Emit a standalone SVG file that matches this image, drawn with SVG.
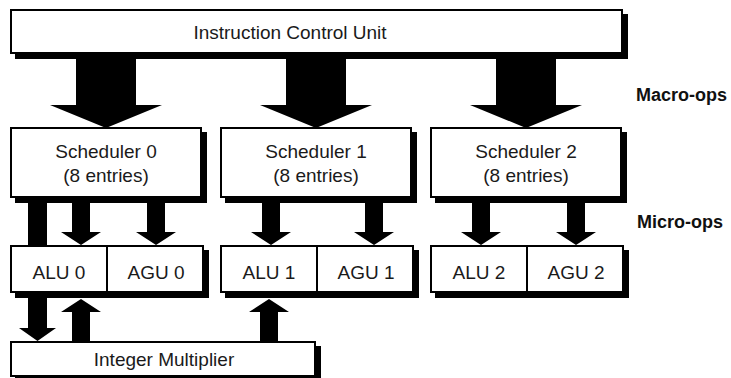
<svg xmlns="http://www.w3.org/2000/svg" width="731" height="378" viewBox="0 0 731 378">
<style>
.box{fill:#fff;stroke:#000;stroke-width:2}
.sh{fill:#000}
.arr{fill:#000}
.div{stroke:#000;stroke-width:2}
text{font-family:"Liberation Sans",Arial,Helvetica,sans-serif;font-size:19px;fill:#1a1a1a;text-anchor:middle}
.lbl{font-weight:bold;font-size:18px;text-anchor:start;fill:#111}
</style>
<rect width="731" height="378" fill="#fff"/>
<g id="connectors">
<polygon class="arr" points="76,54 136,54 136,105 162,105 106,128 50,105 76,105"/>
<polygon class="arr" points="286,54 346,54 346,105 372,105 316,128 260,105 286,105"/>
<polygon class="arr" points="496,54 556,54 556,105 582,105 526,128 470,105 496,105"/>
<polygon class="arr" points="28,197 47,197 47,328 56,328 37.5,341 19,328 28,328"/>
<polygon class="arr" points="72,197 90,197 90,232 101,232 81,245 61,232 72,232"/>
<polygon class="arr" points="147,197 165,197 165,232 176,232 156,245 136,232 147,232"/>
<polygon class="arr" points="262,197 280,197 280,232 291,232 271,245 251,232 262,232"/>
<polygon class="arr" points="365,197 383,197 383,232 394,232 374,245 354,232 365,232"/>
<polygon class="arr" points="472,197 490,197 490,232 501,232 481,245 461,232 472,232"/>
<polygon class="arr" points="567,197 585,197 585,232 596,232 576,245 556,232 567,232"/>
<polygon class="arr" points="72,342 90,342 90,312 101,312 81,299 61,312 72,312"/>
<polygon class="arr" points="260,342 278,342 278,312 289,312 269,299 249,312 260,312"/>
</g>
<g id="icu">
<rect class="sh" x="15" y="14" width="613" height="45"/>
<rect class="box" x="11" y="10" width="611" height="43"/>
<text x="290" y="39">Instruction Control Unit</text>
</g>
<g id="scheduler0">
<rect class="sh" x="15" y="132" width="192" height="71"/>
<rect class="box" x="11" y="128" width="190" height="69"/>
<text x="106" y="158">Scheduler 0</text>
<text x="106" y="182">(8 entries)</text>
</g>
<g id="scheduler1">
<rect class="sh" x="225" y="132" width="192" height="71"/>
<rect class="box" x="221" y="128" width="190" height="69"/>
<text x="316" y="158">Scheduler 1</text>
<text x="316" y="182">(8 entries)</text>
</g>
<g id="scheduler2">
<rect class="sh" x="435" y="132" width="192" height="71"/>
<rect class="box" x="431" y="128" width="190" height="69"/>
<text x="526" y="158">Scheduler 2</text>
<text x="526" y="182">(8 entries)</text>
</g>
<g id="units0">
<rect class="sh" x="15" y="250" width="194" height="48"/>
<rect class="box" x="11" y="246" width="192" height="46"/>
<line class="div" x1="107" y1="246" x2="107" y2="292"/>
<text x="59" y="279">ALU 0</text>
<text x="156" y="279">AGU 0</text>
</g>
<g id="units1">
<rect class="sh" x="225" y="250" width="194" height="48"/>
<rect class="box" x="221" y="246" width="192" height="46"/>
<line class="div" x1="317" y1="246" x2="317" y2="292"/>
<text x="269" y="279">ALU 1</text>
<text x="366" y="279">AGU 1</text>
</g>
<g id="units2">
<rect class="sh" x="435" y="250" width="194" height="48"/>
<rect class="box" x="431" y="246" width="192" height="46"/>
<line class="div" x1="527" y1="246" x2="527" y2="292"/>
<text x="479" y="279">ALU 2</text>
<text x="576" y="279">AGU 2</text>
</g>
<g id="multiplier">
<rect class="sh" x="15" y="346" width="306" height="36"/>
<rect class="box" x="11" y="342" width="304" height="34"/>
<text x="164" y="366">Integer Multiplier</text>
</g>
<g id="labels">
<text class="lbl" x="636" y="101">Macro-ops</text>
<text class="lbl" x="637" y="228">Micro-ops</text>
</g>
</svg>
